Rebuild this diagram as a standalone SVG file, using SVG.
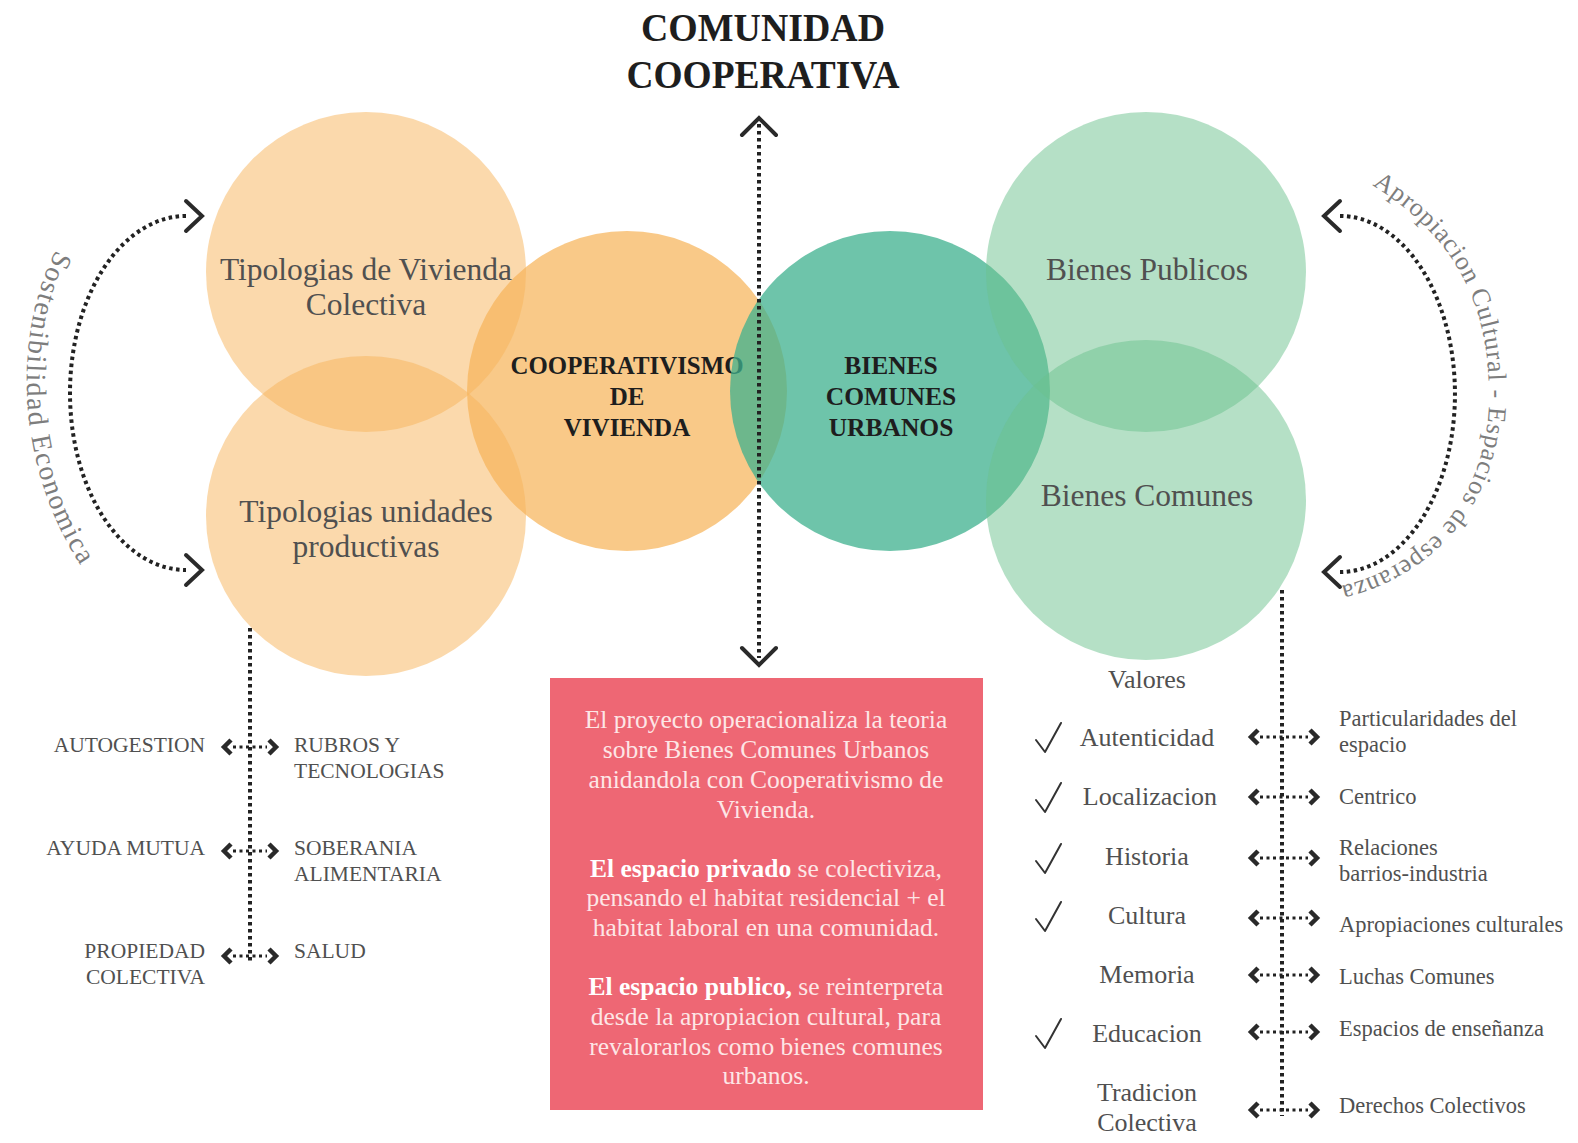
<svg xmlns="http://www.w3.org/2000/svg" width="1578" height="1143" viewBox="0 0 1578 1143">
<style>
.bg{fill:#ffffff}
.lo{fill:#F7B35A;fill-opacity:0.5}
.mo{fill:#F7B45A;fill-opacity:0.72}
.mg{fill:#3DB08E;fill-opacity:0.75}
.lg{fill:#6CC28E;fill-opacity:0.5}
.t{font-family:"Liberation Serif","DejaVu Serif",serif;fill:#505050}
.node{font-size:31.5px;text-anchor:middle}
.bold{font-family:"Liberation Serif","DejaVu Serif",serif;font-weight:bold;fill:#1e1e1e;text-anchor:middle}
.cap{font-size:21.5px}
.val{font-size:26px;text-anchor:middle}
.rl{font-size:22.5px}
.arc{font-family:"Liberation Serif","DejaVu Serif",serif;fill:#7d7d7d}
.dots{fill:none;stroke:#222;stroke-width:4;stroke-dasharray:3.5 3.5}
.sdots{fill:none;stroke:#222;stroke-width:3;stroke-dasharray:3 3.5}
.chev{fill:none;stroke:#2a2a2a;stroke-width:4;stroke-linecap:round;stroke-linejoin:miter}
.schev{fill:none;stroke:#2a2a2a;stroke-width:4.5;stroke-linecap:butt;stroke-linejoin:miter}
.check{fill:none;stroke:#333;stroke-width:2;stroke-linecap:round;stroke-linejoin:round}
.pink{fill:#EE6774}
.pt{font-family:"Liberation Serif","DejaVu Serif",serif;font-size:25.5px;fill:#fde6e6;text-anchor:middle}
.pb{font-weight:bold;fill:#ffffff}
</style>
<defs>
<g id="ma-l">
<path class="schev" d="M -19 -7 L -26 0 L -19 7"/>
<line class="sdots" x1="-17" y1="0" x2="17" y2="0"/>
<path class="schev" d="M 19 -7 L 26 0 L 19 7"/>
</g>
<g id="ma-r">
<path class="schev" d="M -26 -7 L -33 0 L -26 7"/>
<line class="sdots" x1="-24" y1="0" x2="24" y2="0"/>
<path class="schev" d="M 26 -7 L 33 0 L 26 7"/>
</g>
<path id="chk" class="check" d="M -12 2 L -3 14 L 13 -15"/>
<path id="leftTextPath" d="M 56 250 C 14 330, 10 470, 92 582"/>
<path id="rightTextPath" d="M 1372 185 C 1452 235, 1490 300, 1489 400 C 1488 490, 1432 568, 1332 588"/>
</defs>
<rect class="bg" x="0" y="0" width="1578" height="1143"/>

<g id="title">
<text class="bold" x="763" y="41" font-size="40" textLength="244" lengthAdjust="spacingAndGlyphs">COMUNIDAD</text>
<text class="bold" x="763" y="88" font-size="40" textLength="273" lengthAdjust="spacingAndGlyphs">COOPERATIVA</text>
</g>

<g id="node-cooperativismo">
<circle class="mo" cx="627" cy="391" r="160"/>
<text class="bold" x="627" y="374" font-size="25" textLength="233" lengthAdjust="spacingAndGlyphs">COOPERATIVISMO</text>
<text class="bold" x="627" y="405" font-size="25">DE</text>
<text class="bold" x="627" y="436" font-size="25">VIVIENDA</text>
</g>

<g id="node-bienes-comunes-urbanos">
<circle class="mg" cx="890" cy="391" r="160"/>
<text class="bold" x="891" y="374" font-size="25.5">BIENES</text>
<text class="bold" x="891" y="405" font-size="25.5">COMUNES</text>
<text class="bold" x="891" y="436" font-size="25.5">URBANOS</text>
</g>

<g id="node-tipologias-vivienda">
<circle class="lo" cx="366" cy="272" r="160"/>
<text class="t node" x="366" y="280">Tipologias de Vivienda</text>
<text class="t node" x="366" y="315">Colectiva</text>
</g>

<g id="node-tipologias-productivas">
<circle class="lo" cx="366" cy="516" r="160"/>
<text class="t node" x="366" y="522">Tipologias unidades</text>
<text class="t node" x="366" y="557">productivas</text>
</g>

<g id="node-bienes-publicos">
<circle class="lg" cx="1146" cy="272" r="160"/>
<text class="t node" x="1147" y="280">Bienes Publicos</text>
</g>

<g id="node-bienes-comunes">
<circle class="lg" cx="1146" cy="500" r="160"/>
<text class="t node" x="1147" y="506">Bienes Comunes</text>
</g>

<g id="connectors">
<line class="dots" x1="759" y1="124" x2="759" y2="658"/>
<path class="chev" d="M 742 135 L 759 118 L 776 135"/>
<path class="chev" d="M 742 648 L 759 665 L 776 648"/>

<path class="dots" d="M 186 216 A 116 177 0 0 0 186 570"/>
<path class="chev" d="M 186 201 L 202 216 L 186 231"/>
<path class="chev" d="M 186 555 L 202 570 L 186 585"/>

<path class="dots" d="M 1340 216 A 115 178 0 0 1 1340 572"/>
<path class="chev" d="M 1340 201 L 1324 216 L 1340 231"/>
<path class="chev" d="M 1340 557 L 1324 572 L 1340 587"/>

<line class="dots" x1="250" y1="628" x2="250" y2="962"/>
<use href="#ma-l" x="250" y="747"/>
<use href="#ma-l" x="250" y="851"/>
<use href="#ma-l" x="250" y="956"/>

<line class="dots" x1="1282" y1="590" x2="1282" y2="1116"/>
<use href="#ma-r" x="1284" y="737"/>
<use href="#ma-r" x="1284" y="797"/>
<use href="#ma-r" x="1284" y="858"/>
<use href="#ma-r" x="1284" y="918"/>
<use href="#ma-r" x="1284" y="975"/>
<use href="#ma-r" x="1284" y="1032"/>
<use href="#ma-r" x="1284" y="1110"/>
</g>

<g id="label-sostenibilidad">
<text class="arc" font-size="28"><textPath href="#leftTextPath" textLength="330" lengthAdjust="spacing">Sostenibilidad Economica</textPath></text>
</g>

<g id="label-apropiacion">
<text class="arc" font-size="26"><textPath href="#rightTextPath" textLength="515" lengthAdjust="spacing">Apropiacion Cultural - Espacios de esperanza</textPath></text>
</g>

<g id="list-left">
<text class="t cap" x="205" y="752" text-anchor="end">AUTOGESTION</text>
<text class="t cap" x="294" y="752">RUBROS Y</text>
<text class="t cap" x="294" y="778">TECNOLOGIAS</text>
<text class="t cap" x="205" y="855" text-anchor="end">AYUDA MUTUA</text>
<text class="t cap" x="294" y="855">SOBERANIA</text>
<text class="t cap" x="294" y="881">ALIMENTARIA</text>
<text class="t cap" x="205" y="958" text-anchor="end">PROPIEDAD</text>
<text class="t cap" x="205" y="984" text-anchor="end">COLECTIVA</text>
<text class="t cap" x="294" y="958">SALUD</text>
</g>

<g id="text-box">
<rect class="pink" x="550" y="678" width="433" height="432"/>
<text class="pt" x="766" y="728">El proyecto operacionaliza la teoria</text>
<text class="pt" x="766" y="758">sobre Bienes Comunes Urbanos</text>
<text class="pt" x="766" y="788">anidandola con Cooperativismo de</text>
<text class="pt" x="766" y="818">Vivienda.</text>
<text class="pt" x="766" y="877"><tspan class="pb">El espacio privado</tspan> se colectiviza,</text>
<text class="pt" x="766" y="906">pensando el habitat residencial + el</text>
<text class="pt" x="766" y="936">habitat laboral en una comunidad.</text>
<text class="pt" x="766" y="995"><tspan class="pb">El espacio publico,</tspan> se reinterpreta</text>
<text class="pt" x="766" y="1025">desde la apropiacion cultural, para</text>
<text class="pt" x="766" y="1055">revalorarlos como bienes comunes</text>
<text class="pt" x="766" y="1084">urbanos.</text>
</g>

<g id="list-valores">
<text class="t val" x="1147" y="688">Valores</text>
<use href="#chk" x="1048" y="738"/>
<text class="t val" x="1147" y="746">Autenticidad</text>
<use href="#chk" x="1048" y="798"/>
<text class="t val" x="1150" y="805">Localizacion</text>
<use href="#chk" x="1048" y="859"/>
<text class="t val" x="1147" y="865">Historia</text>
<use href="#chk" x="1048" y="917"/>
<text class="t val" x="1147" y="924">Cultura</text>
<text class="t val" x="1147" y="983">Memoria</text>
<use href="#chk" x="1048" y="1034"/>
<text class="t val" x="1147" y="1042">Educacion</text>
<text class="t val" x="1147" y="1101">Tradicion</text>
<text class="t val" x="1147" y="1131">Colectiva</text>
</g>

<g id="list-right">
<text class="t rl" x="1339" y="726">Particularidades del</text>
<text class="t rl" x="1339" y="752">espacio</text>
<text class="t rl" x="1339" y="804">Centrico</text>
<text class="t rl" x="1339" y="855">Relaciones</text>
<text class="t rl" x="1339" y="881">barrios-industria</text>
<text class="t rl" x="1339" y="932">Apropiaciones culturales</text>
<text class="t rl" x="1339" y="984">Luchas Comunes</text>
<text class="t rl" x="1339" y="1036">Espacios de enseñanza</text>
<text class="t rl" x="1339" y="1113">Derechos Colectivos</text>
</g>
</svg>
